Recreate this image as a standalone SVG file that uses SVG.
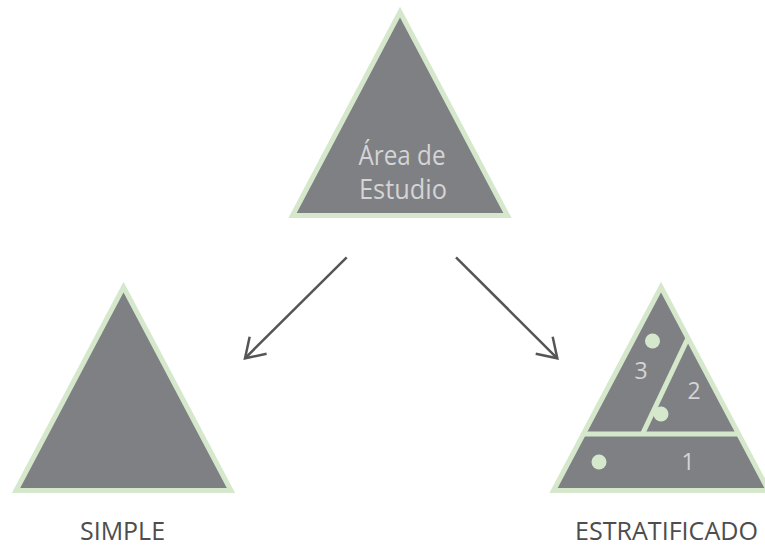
<svg xmlns="http://www.w3.org/2000/svg" width="765" height="546" viewBox="0 0 765 546">
<defs>
<style>
.tri{fill:#7f8084;stroke:#d6e8cc;stroke-width:5;stroke-linejoin:miter;stroke-miterlimit:10}
.div{stroke:#d6e8cc;stroke-width:5;fill:none}
.dot{fill:#d6e8cc}
.in{font-family:"Open Sans","Liberation Sans",sans-serif;fill:#d4d4d4;text-anchor:middle}
.lbl{font-family:"Open Sans","Liberation Sans",sans-serif;fill:#4d4d4d;font-size:25.5px;text-anchor:middle}
.arr{stroke:#555555;stroke-width:2.5;fill:none}
</style>
<marker id="ah" markerUnits="userSpaceOnUse" viewBox="-22 -14 24 28" markerWidth="24" markerHeight="28" refX="0" refY="0" orient="auto">
<path d="M-18.5,-12 L0,0 L-18.5,12" fill="none" stroke="#555555" stroke-width="2.5"/>
</marker>
</defs>
<rect width="765" height="546" fill="#ffffff"/>
<g id="area">
<polygon class="tri" points="400,12 507.5,215.5 292.5,215.5"/>
<text class="in" x="402" y="164.5" font-size="27" textLength="87" lengthAdjust="spacingAndGlyphs">Área de</text>
<text class="in" x="403" y="198.5" font-size="27" textLength="88" lengthAdjust="spacingAndGlyphs">Estudio</text>
</g>
<g id="simple">
<polygon class="tri" points="123.5,287 231,490.5 16,490.5"/>
<text class="lbl" x="122.5" y="539.5" textLength="85" lengthAdjust="spacingAndGlyphs">SIMPLE</text>
</g>
<g id="estratificado">
<polygon class="tri" points="661,287 768.5,490.5 553.5,490.5"/>
<line class="div" x1="583" y1="434" x2="739" y2="434"/>
<line class="div" x1="688" y1="338" x2="642.5" y2="434"/>
<circle class="dot" cx="652.5" cy="341" r="7.5"/>
<circle class="dot" cx="661" cy="414" r="7.5"/>
<circle class="dot" cx="599" cy="462" r="7.5"/>
<text class="in" x="641" y="378.5" font-size="23">3</text>
<text class="in" x="694" y="399" font-size="23">2</text>
<text class="in" x="688" y="469.5" font-size="23">1</text>
<text class="lbl" x="666.5" y="540" textLength="183" lengthAdjust="spacingAndGlyphs">ESTRATIFICADO</text>
</g>
<g id="connectors">
<line class="arr" x1="346.7" y1="257.3" x2="245" y2="358.3" marker-end="url(#ah)"/>
<line class="arr" x1="456" y1="257.3" x2="557.3" y2="358.3" marker-end="url(#ah)"/>
</g>
</svg>
